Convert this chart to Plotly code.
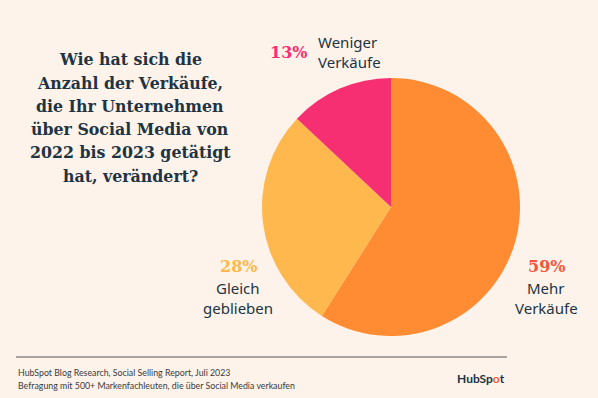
import plotly.graph_objects as go

categories = ["Mehr Verkäufe", "Gleich geblieben", "Weniger Verkäufe"]
values = [59, 28, 13]
colors = ["#ff8b33", "#ffb84d", "#f52f72"]
pct_colors = ["#f5563a", "#ffb84d", "#f52f72"]

W, H = 598, 398
BG = "#fdf3ea"
NAVY = "#213343"
SERIF = "DejaVu Serif"
SANS = "Noto Sans"

fig = go.Figure()
fig.add_trace(go.Pie(
    labels=categories, values=values, sort=False, direction="clockwise", rotation=0,
    marker=dict(colors=colors, line=dict(width=0)),
    textinfo="none", hoverinfo="label+percent", showlegend=False,
    domain=dict(x=[(391-129)/W, (391+129)/W], y=[(191-129)/H, (191+129)/H]),
))

def px(x):
    return x / W

def py(y):
    return 1 - y / H

ann = []
title_lines = ["Wie hat sich die", "Anzahl der Verkäufe,", "die Ihr Unternehmen",
               "über Social Media von", "2022 bis 2023 getätigt", "hat, verändert?"]
for i, t in enumerate(title_lines):
    ann.append(dict(x=px(130), y=py(60 + i * 23.2), text="<b>" + t + "</b>", showarrow=False,
                    xanchor="center", yanchor="middle",
                    font=dict(family=SERIF, size=15.8, color=NAVY)))

labels_pos = [
    (546, 266, 288, 308, ["Mehr", "Verkäufe"]),
    (238, 266, 288, 308, ["Gleich", "geblieben"]),
]
for i, (x, yp, y1, y2, lines) in enumerate(labels_pos):
    ann.append(dict(x=px(x), y=py(yp), text="<b>%d%%</b>" % values[i], showarrow=False,
                    xanchor="center", yanchor="middle",
                    font=dict(family=SERIF, size=16, color=pct_colors[i])))
    ann.append(dict(x=px(x), y=py(y1), text=lines[0], showarrow=False, xanchor="center", yanchor="middle",
                    font=dict(family=SANS, size=15, color=NAVY)))
    ann.append(dict(x=px(x), y=py(y2), text=lines[1], showarrow=False, xanchor="center", yanchor="middle",
                    font=dict(family=SANS, size=15, color=NAVY)))

ann.append(dict(x=px(288), y=py(52), text="<b>%d%%</b>" % values[2], showarrow=False,
                xanchor="center", yanchor="middle",
                font=dict(family=SERIF, size=16, color=pct_colors[2])))
ann.append(dict(x=px(316), y=py(42), text="Weniger", showarrow=False, xanchor="left", yanchor="middle",
                font=dict(family=SANS, size=15, color=NAVY)))
ann.append(dict(x=px(316), y=py(62), text="Verkäufe", showarrow=False, xanchor="left", yanchor="middle",
                font=dict(family=SANS, size=15, color=NAVY)))

ann.append(dict(x=px(16), y=py(372), text="HubSpot Blog Research, Social Selling Report, Juli 2023",
                showarrow=False, xanchor="left", yanchor="middle",
                font=dict(family="Lato", size=8.8, color="#3a3a3a")))
ann.append(dict(x=px(16), y=py(385), text="Befragung mit 500+ Markenfachleuten, die über Social Media verkaufen",
                showarrow=False, xanchor="left", yanchor="middle",
                font=dict(family="Lato", size=8.8, color="#3a3a3a")))
ann.append(dict(x=px(507), y=py(378), text="<b>HubSp<span style='color:#ff5c35'>o</span>t</b>",
                showarrow=False, xanchor="right", yanchor="middle",
                font=dict(family="Lato", size=12, color=NAVY)))

fig.update_layout(
    width=W, height=H, margin=dict(l=0, r=0, t=0, b=0),
    paper_bgcolor=BG, plot_bgcolor=BG, annotations=ann,
    shapes=[dict(type="line", xref="paper", yref="paper", x0=px(16), x1=px(507),
                 y0=py(357), y1=py(357), line=dict(color="#555555", width=1))],
)
fig.write_html("out.html", config={"displayModeBar": False},
               post_script="document.body.style.margin='0';")
